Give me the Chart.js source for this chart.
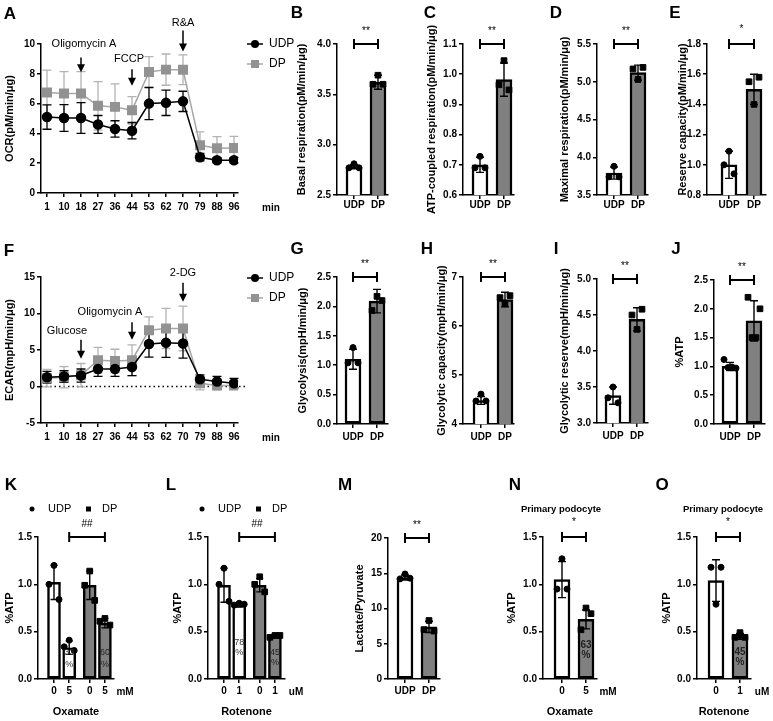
<!DOCTYPE html>
<html>
<head>
<meta charset="utf-8">
<script src="https://cdn.jsdelivr.net/npm/chart.js@4.4.1/dist/chart.umd.min.js"></script>
<style>
  html, body { margin: 0; padding: 0; background: #fff; }
  #fig { position: relative; width: 773px; height: 721px; overflow: hidden; background: #fff; }
  #fig canvas { position: absolute; left: 0; top: 0; }
  .lbl { position: absolute; font: bold 17px "Liberation Sans", Arial, sans-serif; line-height: 1; transform: translate(-50%, -50%); }
</style>
</head>
<body>
<div id="fig"></div>
<script>
// ---------- data ----------
const timeLabels = ["1", "10", "18", "27", "36", "44", "53", "62", "70", "79", "88", "96"];
const ocrUDP   = [5.1, 5.03, 5.03, 4.6, 4.3, 4.18, 6.0, 6.05, 6.15, 2.4, 2.2, 2.2];
const ocrUDPsd = [0.82, 0.9, 1.03, 0.6, 0.55, 0.55, 1.08, 0.85, 0.68, 0.25, 0.17, 0.18];
const ocrDP    = [6.75, 6.67, 6.67, 5.85, 5.78, 5.55, 8.12, 8.28, 8.27, 3.2, 3.0, 3.02];
const ocrDPsd  = [1.5, 1.48, 1.48, 1.63, 1.54, 0.92, 1.03, 1.05, 1.0, 0.9, 0.78, 0.78];
const ocrTicks = [0, 2, 4, 6, 8, 10];

const ecarUDP   = [1.27, 1.36, 1.5, 2.4, 2.4, 2.68, 5.82, 6.0, 5.9, 1.0, 0.68, 0.45];
const ecarUDPsd = [0.8, 0.8, 0.9, 1.0, 1.0, 1.2, 1.8, 2.0, 2.0, 0.6, 0.7, 0.65];
const ecarDP    = [1.14, 1.27, 1.55, 3.6, 3.5, 3.6, 7.7, 7.95, 7.95, 0.45, 0.14, 0.14];
const ecarDPsd  = [1.2, 1.45, 1.6, 1.76, 1.6, 2.1, 1.85, 2.75, 3.05, 0.9, 0.55, 0.5];
const ecarTicks = [-5, 0, 5, 10, 15];

const groups = ["UDP", "DP"];

const basalMean = [2.78, 3.62];
const basalSd   = [0.02, 0.07];
const basalPts  = [[2.81, 2.77, 2.77], [3.69, 3.6, 3.6]];
const basalTicks = [2.5, 3.0, 3.5, 4.0];

const atpResMean = [0.70, 0.982];
const atpResSd   = [0.025, 0.055];
const atpResPts  = [[0.728, 0.69, 0.69], [1.045, 0.965, 0.948]];
const atpResTicks = [0.6, 0.7, 0.8, 0.9, 1.0, 1.1];

const maxResMean = [3.79, 5.12];
const maxResSd   = [0.08, 0.1];
const maxResPts  = [[3.88, 3.74, 3.74], [5.03, 5.17, 5.19]];
const maxResTicks = [3.5, 4.0, 4.5, 5.0, 5.5];

const reserveMean = [1.0, 1.5];
const reserveSd   = [0.09, 0.1];
const reservePts  = [[1.09, 1.0, 0.94], [1.40, 1.55, 1.58]];
const reserveTicks = [0.8, 1.0, 1.2, 1.4, 1.6, 1.8];

const glycMean = [1.1, 2.09];
const glycSd   = [0.17, 0.2];
const glycPts  = [[1.3, 1.04, 1.04], [2.17, 1.93, 2.1]];
const glycTicks = [0.0, 0.5, 1.0, 1.5, 2.0, 2.5];

const glycCapMean = [4.48, 6.54];
const glycCapSd   = [0.08, 0.15];
const glycCapPts  = [[4.61, 4.47, 4.47], [6.45, 6.58, 6.62]];
const glycCapTicks = [4, 5, 6, 7];

const glycResMean = [3.38, 4.44];
const glycResSd   = [0.12, 0.16];
const glycResPts  = [[3.5, 3.35, 3.28], [4.3, 4.5, 4.58]];
const glycResTicks = [3.0, 3.5, 4.0, 4.5, 5.0];

const atpMean = [1.0, 1.79];
const atpSd   = [0.07, 0.35];
const atpPts  = [[1.12, 0.98, 0.99, 0.97], [2.2, 1.5, 1.5, 2.0]];
const atpTicks = [0.0, 0.5, 1.0, 1.5, 2.0, 2.5];

const doseOx = ["0", "5", "0", "5"];
const oxMean = [1.02, 0.33, 0.99, 0.59];
const oxSd   = [0.18, 0.07, 0.15, 0.05];
const oxPts  = [[1.2, 1.0, 0.84], [0.41, 0.34, 0.3], [1.14, 0.99, 0.83], [0.64, 0.61, 0.57]];
const oxPct  = ["33", "60"];

const doseRot = ["0", "1", "0", "1"];
const rotMean = [0.99, 0.78, 0.99, 0.45];
const rotSd   = [0.18, 0.02, 0.07, 0.015];
const rotPts  = [[1.17, 1.0, 0.82], [0.8, 0.78, 0.79], [1.08, 1.0, 0.92], [0.46, 0.44, 0.46]];
const rotPct  = ["78", "45"];

const pctTicks = [0.0, 0.5, 1.0, 1.5];

const lpMean = [14.4, 7.4];
const lpSd   = [0.35, 0.8];
const lpPts  = [[14.9, 14.2, 14.3], [8.3, 7.0, 6.8]];
const lpTicks = [0, 5, 10, 15, 20];

const podoOxDose = ["0", "5"];
const podoOxMean = [1.05, 0.63];
const podoOxSd   = [0.19, 0.1];
const podoOxPts  = [[1.27, 0.95, 0.95], [0.75, 0.52, 0.69]];
const podoOxPct  = ["63"];

const podoRotDose = ["0", "1"];
const podoRotMean = [1.04, 0.45];
const podoRotSd   = [0.22, 0.03];
const podoRotPts  = [[0.79, 1.18, 1.18], [0.49, 0.44, 0.44]];
const podoRotPct  = ["45"];

// ---------- drawing setup ----------
const W = 773, H = 721;
const FF = '"Liberation Sans", Arial, Helvetica, sans-serif';
const TICK = { family: FF, size: 10, weight: "bold" };
const TITLE = { family: FF, size: 11, weight: "bold" };
const GRAY = "#808080";
Chart.defaults.color = "#000";
Chart.defaults.font.family = FF;

const fig = document.getElementById("fig");

function letter(t, x, y) {
  const d = document.createElement("div");
  d.className = "lbl";
  d.textContent = t;
  d.style.left = x + "px";
  d.style.top = y + "px";
  fig.appendChild(d);
}

function canvas() {
  const c = document.createElement("canvas");
  c.width = W; c.height = H;
  c.style.width = W + "px"; c.style.height = H + "px";
  fig.appendChild(c);
  return c;
}

function text(ctx, s, x, y, font, align, color) {
  ctx.font = font;
  ctx.fillStyle = color || "#000";
  ctx.textAlign = align || "center";
  ctx.textBaseline = "middle";
  ctx.fillText(s, x, y);
}

function errBars(ctx, X, Y, xs, means, sds, color, cap, lw) {
  ctx.strokeStyle = color;
  ctx.lineWidth = lw;
  xs.forEach((xv, i) => {
    const x = X(xv), y1 = Y(means[i] + sds[i]), y2 = Y(means[i] - sds[i]);
    ctx.beginPath();
    ctx.moveTo(x, y1); ctx.lineTo(x, y2);
    ctx.moveTo(x - cap / 2, y1); ctx.lineTo(x + cap / 2, y1);
    ctx.moveTo(x - cap / 2, y2); ctx.lineTo(x + cap / 2, y2);
    ctx.stroke();
  });
}

function arrow(ctx, x, y1, y2) {
  ctx.strokeStyle = "#000"; ctx.fillStyle = "#000"; ctx.lineWidth = 1.5;
  ctx.beginPath(); ctx.moveTo(x, y1); ctx.lineTo(x, y2 - 5); ctx.stroke();
  ctx.beginPath(); ctx.moveTo(x - 4, y2 - 8); ctx.lineTo(x + 4, y2 - 8); ctx.lineTo(x, y2); ctx.closePath(); ctx.fill();
}

function bracket(ctx, x1, x2, y) {
  ctx.strokeStyle = "#000"; ctx.lineWidth = 2;
  ctx.beginPath();
  ctx.moveTo(x1, y); ctx.lineTo(x2, y);
  ctx.moveTo(x1, y - 5); ctx.lineTo(x1, y + 5);
  ctx.moveTo(x2, y - 5); ctx.lineTo(x2, y + 5);
  ctx.stroke();
}

function yAxis(a, ticks, dec, title) {
  return {
    type: "linear", min: ticks[0], max: ticks[ticks.length - 1],
    afterBuildTicks: s => { s.ticks = ticks.map(v => ({ value: v })); },
    afterFit: s => { s.width = a.l - s.chart.options.layout.padding.left; },
    ticks: { font: TICK, color: "#000", padding: 2, callback: v => v.toFixed(dec) },
    grid: { drawOnChartArea: false, tickLength: 4, color: "#000", lineWidth: 1.5 },
    border: { color: "#000", width: 1.5 },
    title: { display: true, text: title, font: TITLE, color: "#000", padding: 0 }
  };
}

function xAxis(a, vals, labels, min, max, pad, title) {
  return {
    type: "linear", min, max, offset: false,
    afterBuildTicks: s => { s.ticks = vals.map(v => ({ value: v })); },
    afterFit: s => { s.height = H - a.b; },
    ticks: { font: TICK, color: "#000", padding: pad, maxRotation: 0, autoSkip: false, callback: (v, i) => labels[i] },
    grid: { drawOnChartArea: false, offset: false, tickLength: 4, color: "#000", lineWidth: 1.5 },
    border: { color: "#000", width: 1.5 },
    title: { display: !!title, text: title || "", font: TITLE, color: "#000", padding: { top: 0, bottom: 2.4 } }
  };
}

function options(a, titleX, scales) {
  return {
    responsive: false, animation: false, devicePixelRatio: 1,
    layout: { autoPadding: false, padding: { left: titleX - 6.6, top: a.t, right: W - a.r, bottom: 0 } },
    plugins: { legend: { display: false }, tooltip: { enabled: false } },
    scales
  };
}

// ---------- line panels (A, F) ----------
function linePanel(p) {
  const a = p.area, unit = p.unit;
  const idx = timeLabels.map((_, i) => i);
  const xmin = -p.first / unit, xmax = xmin + (a.r - a.l) / unit;
  const pts = vals => vals.map((v, i) => ({ x: i, y: v }));
  new Chart(canvas(), {
    type: "line",
    data: {
      datasets: [
        { label: "UDP", data: pts(p.udp), borderColor: "#000", borderWidth: 1.5, pointStyle: "circle", pointRadius: 4.5,
          pointBackgroundColor: "#000", pointBorderColor: "#000", order: 0 },
        { label: "DP", data: pts(p.dp), borderColor: "#a6a6a6", borderWidth: 1.5, pointStyle: "rect", pointRadius: 6,
          pointBackgroundColor: "#929292", pointBorderColor: "#929292", order: 1 }
      ]
    },
    options: options(a, p.titleX, {
      x: xAxis(a, idx, timeLabels, xmin, xmax, p.xPad),
      y: yAxis(a, p.ticks, 0, p.yTitle)
    }),
    plugins: [{
      id: "lineDeco",
      beforeDatasetsDraw(chart) {
        const ctx = chart.ctx, X = v => chart.scales.x.getPixelForValue(v), Y = v => chart.scales.y.getPixelForValue(v);
        ctx.save();
        if (p.zeroLine) {
          ctx.strokeStyle = "#000"; ctx.lineWidth = 1.5; ctx.setLineDash([1.5, 3]);
          ctx.beginPath(); ctx.moveTo(a.l, Y(0)); ctx.lineTo(a.r + 7, Y(0)); ctx.stroke();
          ctx.setLineDash([]);
        }
        errBars(ctx, X, Y, idx, p.dp, p.dpSd, "#b3b3b3", 9, 1.3);
        errBars(ctx, X, Y, idx, p.udp, p.udpSd, "#000", 9, 1.3);
        ctx.restore();
      },
      afterDraw(chart) {
        const ctx = chart.ctx, X = v => chart.scales.x.getPixelForValue(v), Y = v => chart.scales.y.getPixelForValue(v);
        ctx.save();
        p.notes.forEach(n => {
          text(ctx, n.text, X(n.at) + (n.dx || 0), Y(n.ty), "11px " + FF);
          arrow(ctx, X(n.at), Y(n.from), Y(n.to));
        });
        // legend
        const lx = a.r + 9;
        [[p.legY[0], "#000", "circle", "UDP"], [p.legY[1], "#a6a6a6", "rect", "DP"]].forEach(([y, col, st, lab]) => {
          ctx.strokeStyle = col; ctx.lineWidth = 1.5;
          ctx.beginPath(); ctx.moveTo(lx, y); ctx.lineTo(lx + 16, y); ctx.stroke();
          ctx.fillStyle = st === "circle" ? "#000" : "#929292";
          if (st === "circle") { ctx.beginPath(); ctx.arc(lx + 8, y, 4, 0, Math.PI * 2); ctx.fill(); }
          else ctx.fillRect(lx + 4, y - 4, 8, 8);
          text(ctx, lab, lx + 22, y, "12px " + FF, "left");
        });
        text(ctx, "min", a.r + 24, p.minY, "bold 10px " + FF, "left");
        ctx.restore();
      }
    }]
  });
}

linePanel({
  area: { l: 41, t: 44, r: 238, b: 193 }, titleX: 10, first: 6, unit: 17, xPad: 4.4,
  udp: ocrUDP, udpSd: ocrUDPsd, dp: ocrDP, dpSd: ocrDPsd, ticks: ocrTicks, yTitle: "OCR(pM/min/\u03bcg)",
  legY: [44, 64], minY: 208,
  notes: [
    { text: "Oligomycin A", at: 2, ty: 10.0, from: 9.1, to: 8.1, dx: 3 },
    { text: "FCCP", at: 5, ty: 9.0, from: 8.3, to: 7.2, dx: -3 },
    { text: "R&A", at: 8, ty: 11.4, from: 10.9, to: 9.5 }
  ]
});

linePanel({
  area: { l: 41, t: 277, r: 238, b: 423 }, titleX: 10, first: 6, unit: 17, xPad: 4.4,
  udp: ecarUDP, udpSd: ecarUDPsd, dp: ecarDP, dpSd: ecarDPsd, ticks: ecarTicks, yTitle: "ECAR(mpH/min/\u03bcg)",
  legY: [278, 298], minY: 438, zeroLine: true,
  notes: [
    { text: "Glucose", at: 2, ty: 7.6, from: 6.4, to: 3.8, dx: -14 },
    { text: "Oligomycin A", at: 5, ty: 10.2, from: 8.8, to: 6.4, dx: -22 },
    { text: "2-DG", at: 8, ty: 15.5, from: 14.2, to: 11.6 }
  ]
});

// ---------- bar panels ----------
function barPanel(p) {
  const a = p.area;
  const slots = p.slots || [0, 1];
  const unit = p.unit || 24;
  const xmin = -p.first / unit, xmax = xmin + (a.r - a.l) / unit;
  const kinds = p.kinds || ["c", "s"];
  const fills = p.fills || ["#fff", GRAY];
  const jit = n => (n === 4 ? [-6, -2, 2, 6] : [0, -5, 5]);
  const scatter = kind => {
    const out = [];
    p.pts.forEach((arr, i) => {
      if (kinds[i] !== kind) return;
      const j = jit(arr.length);
      arr.forEach((v, k) => out.push({ x: slots[i] + j[k] / unit, y: v }));
    });
    return out;
  };
  new Chart(canvas(), {
    type: "bar",
    data: {
      datasets: [
        { type: "scatter", data: scatter("c"), pointStyle: "circle", pointRadius: 3, pointBackgroundColor: "#000", pointBorderColor: "#000", order: 0 },
        { type: "scatter", data: scatter("s"), pointStyle: "rect", pointRadius: 4, pointBackgroundColor: "#000", pointBorderColor: "#000", order: 0 },
        { type: "bar", data: slots.map((s, i) => ({ x: s, y: p.means[i] })), backgroundColor: fills, borderColor: "#000",
          borderWidth: 2.5, borderSkipped: false, barThickness: p.barW || 16, order: 1 }
      ]
    },
    options: options(a, p.titleX, {
      x: xAxis(a, slots, p.labels, xmin, xmax, p.xPad, p.xTitle),
      y: yAxis(a, p.ticks, p.dec, p.yTitle)
    }),
    plugins: [{
      id: "barDeco",
      afterDatasetsDraw(chart) {
        const ctx = chart.ctx, X = v => chart.scales.x.getPixelForValue(v), Y = v => chart.scales.y.getPixelForValue(v);
        ctx.save();
        errBars(ctx, X, Y, slots, p.means, p.sds, "#000", p.cap || 8, 1.4);
        const top = p.ticks[p.ticks.length - 1];
        const [b1, b2] = p.bracket || [0, 1];
        bracket(ctx, X(slots[b1]), X(slots[b2]), Y(top));
        text(ctx, p.sig, (X(slots[b1]) + X(slots[b2])) / 2, Y(top) - (p.sig.length === 1 ? 15 : 13), p.sigFont || ("10px " + FF));
        (p.pct || []).forEach(q => {
          text(ctx, q.text, X(slots[q.at]), Y(q.y1), q.font, "center", q.color);
          text(ctx, "%", X(slots[q.at]), Y(q.y2), q.font, "center", q.color);
        });
        if (p.unitText) text(ctx, p.unitText, a.r + 11, p.unitY, "bold 10px " + FF);
        if (p.head) text(ctx, p.head, p.headX, a.t - 28, "bold 9.5px " + FF);
        if (p.legend) {
          const y = a.t - 28;
          ctx.fillStyle = "#000";
          ctx.beginPath(); ctx.arc(a.l - 6, y, 2.5, 0, Math.PI * 2); ctx.fill();
          text(ctx, "UDP", a.l + 10, y, "11px " + FF, "left");
          ctx.fillRect(a.l + 48, y - 2.5, 5, 5);
          text(ctx, "DP", a.l + 64, y, "11px " + FF, "left");
        }
        ctx.restore();
      }
    }]
  });
}

// row 1
barPanel({ area: { l: 337, t: 44, r: 388, b: 195 }, titleX: 302, first: 17, xPad: 0, labels: groups,
  means: basalMean, sds: basalSd, pts: basalPts, ticks: basalTicks, dec: 1, yTitle: "Basal respiration(pM/min/\u03bcg)", sig: "**" });
barPanel({ area: { l: 463, t: 44, r: 514, b: 195 }, titleX: 432, first: 17, xPad: 0, labels: groups,
  means: atpResMean, sds: atpResSd, pts: atpResPts, ticks: atpResTicks, dec: 1, yTitle: "ATP-coupled respiration(pM/min/\u03bcg)", sig: "**" });
barPanel({ area: { l: 597, t: 44, r: 648, b: 195 }, titleX: 565, first: 17, xPad: 0, labels: groups,
  means: maxResMean, sds: maxResSd, pts: maxResPts, ticks: maxResTicks, dec: 1, yTitle: "Maximal respiration(pM/min/\u03bcg)", sig: "**" });
barPanel({ area: { l: 707, t: 44, r: 766, b: 195 }, titleX: 683, first: 22, unit: 25, xPad: 0, labels: groups,
  means: reserveMean, sds: reserveSd, pts: reservePts, ticks: reserveTicks, dec: 1, yTitle: "Reserve capacity(pM/min/\u03bcg)", sig: "*" });

// row 2
barPanel({ area: { l: 337, t: 277, r: 388, b: 424 }, titleX: 303, first: 16, xPad: 3.4, labels: groups,
  means: glycMean, sds: glycSd, pts: glycPts, ticks: glycTicks, dec: 1, yTitle: "Glycolysis(mpH/min/\u03bcg)", sig: "**" });
barPanel({ area: { l: 463, t: 277, r: 514, b: 424 }, titleX: 442, first: 18, xPad: 3.4, labels: groups,
  means: glycCapMean, sds: glycCapSd, pts: glycCapPts, ticks: glycCapTicks, dec: 0, yTitle: "Glycolytic capacity(mpH/min/\u03bcg)", sig: "**" });
barPanel({ area: { l: 597, t: 279, r: 648, b: 423 }, titleX: 565, first: 16, xPad: 3.4, labels: groups,
  means: glycResMean, sds: glycResSd, pts: glycResPts, ticks: glycResTicks, dec: 1, yTitle: "Glycolytic reserve(mpH/min/\u03bcg)", sig: "**" });
barPanel({ area: { l: 714, t: 280, r: 765, b: 424 }, titleX: 680, first: 16, xPad: 3.4, labels: groups,
  means: atpMean, sds: atpSd, pts: atpPts, ticks: atpTicks, dec: 1, yTitle: "%ATP", sig: "**" });

// row 3
const fourSlots = [0, 1, 2.35, 3.35];
const fourKinds = ["c", "c", "s", "s"];
const fourFills = ["#fff", "#fff", GRAY, GRAY];
barPanel({ area: { l: 38, t: 537, r: 114, b: 679 }, titleX: 10, first: 16, unit: 15.2, barW: 13, cap: 7, xPad: 2.4,
  slots: fourSlots, kinds: fourKinds, fills: fourFills, labels: doseOx, xTitle: "Oxamate", unitText: "mM", unitY: 692,
  means: oxMean, sds: oxSd, pts: oxPts, ticks: pctTicks, dec: 1, yTitle: "%ATP", sig: "##", bracket: [1, 3], legend: true,
  pct: [{ at: 1, text: oxPct[0], y1: 0.275, y2: 0.148, font: "9px " + FF, color: "#333" },
        { at: 3, text: oxPct[1], y1: 0.275, y2: 0.148, font: "9px " + FF, color: "#222" }] });
barPanel({ area: { l: 208, t: 537, r: 285, b: 679 }, titleX: 178, first: 16, unit: 15.2, barW: 13, cap: 7, xPad: 2.4,
  slots: fourSlots, kinds: fourKinds, fills: fourFills, labels: doseRot, xTitle: "Rotenone", unitText: "uM", unitY: 692,
  means: rotMean, sds: rotSd, pts: rotPts, ticks: pctTicks, dec: 1, yTitle: "%ATP", sig: "##", bracket: [1, 3], legend: true,
  pct: [{ at: 1, text: rotPct[0], y1: 0.39, y2: 0.285, font: "9px " + FF, color: "#333" },
        { at: 3, text: rotPct[1], y1: 0.285, y2: 0.17, font: "9px " + FF, color: "#222" }] });
barPanel({ area: { l: 388, t: 538, r: 440, b: 679 }, titleX: 360, first: 17, xPad: 2.4, labels: groups,
  means: lpMean, sds: lpSd, pts: lpPts, ticks: lpTicks, dec: 0, yTitle: "Lactate/Pyruvate", sig: "**" });
barPanel({ area: { l: 543, t: 537, r: 597, b: 679 }, titleX: 512, first: 19, xPad: 2.4, labels: podoOxDose,
  xTitle: "Oxamate", unitText: "mM", unitY: 692, head: "Primary podocyte", headX: 561,
  means: podoOxMean, sds: podoOxSd, pts: podoOxPts, ticks: pctTicks, dec: 1, yTitle: "%ATP", sig: "*",
  pct: [{ at: 1, text: podoOxPct[0], y1: 0.36, y2: 0.25, font: "bold 10px " + FF, color: "#222" }] });
barPanel({ area: { l: 697, t: 537, r: 751, b: 679 }, titleX: 667, first: 19, xPad: 2.4, labels: podoRotDose,
  xTitle: "Rotenone", unitText: "uM", unitY: 692, head: "Primary podocyte", headX: 723,
  means: podoRotMean, sds: podoRotSd, pts: podoRotPts, ticks: pctTicks, dec: 1, yTitle: "%ATP", sig: "*",
  pct: [{ at: 1, text: podoRotPct[0], y1: 0.285, y2: 0.18, font: "bold 10px " + FF, color: "#222" }] });

// panel letters
[["A", 10, 13], ["B", 297, 12], ["C", 430, 12], ["D", 556, 12], ["E", 675, 12],
 ["F", 9, 250], ["G", 297, 248], ["H", 427, 248], ["I", 556, 248], ["J", 676, 248],
 ["K", 11, 484], ["L", 171, 484], ["M", 345, 484], ["N", 515, 484], ["O", 662, 484]].forEach(l => letter(...l));
</script>
</body>
</html>
